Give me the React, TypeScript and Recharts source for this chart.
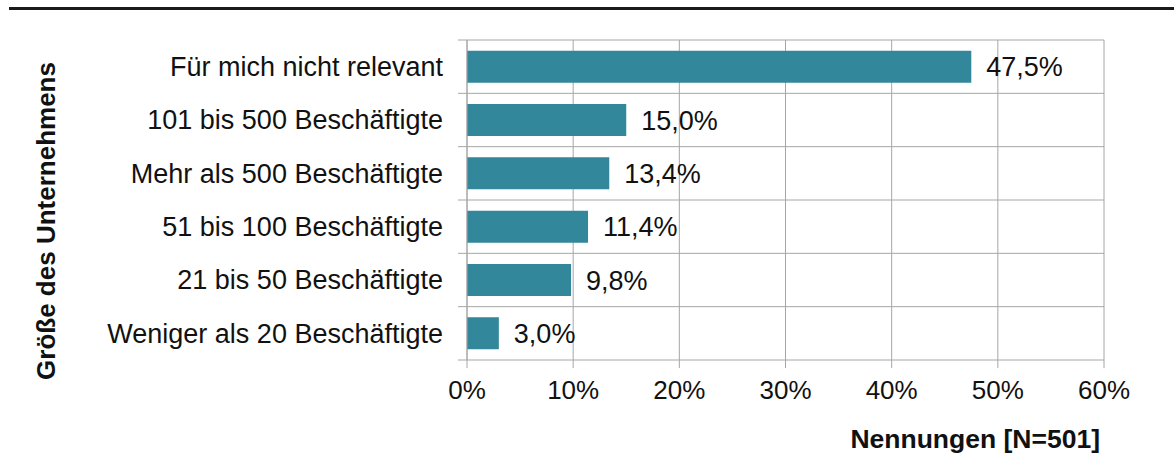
import { BarChart, Bar, XAxis, YAxis, CartesianGrid, LabelList } from 'recharts';

const categories = [
  'Für mich nicht relevant',
  '101 bis 500 Beschäftigte',
  'Mehr als 500 Beschäftigte',
  '51 bis 100 Beschäftigte',
  '21 bis 50 Beschäftigte',
  'Weniger als 20 Beschäftigte',
];
const shares = [47.5, 15.0, 13.4, 11.4, 9.8, 3.0];
const xTicks = [0, 10, 20, 30, 40, 50, 60];

const chartData = categories.map((name, i) => ({ name, value: shares[i] }));

const FONT = '"Liberation Sans", Arial, sans-serif';
const GRID = '#a6a6a6';
const fmtPct = (v: number) => `${v.toFixed(1).replace('.', ',')}%`;

const CategoryTick = (props: any) => {
  const { x, y, payload, index, visibleTicksCount } = props;
  const half = payload.offset || 0;
  const axisX = x;
  return (
    <g>
      <line x1={axisX - 9} x2={axisX} y1={y - half} y2={y - half} stroke={GRID} />
      {index === visibleTicksCount - 1 && (
        <line x1={axisX - 9} x2={axisX} y1={y + half} y2={y + half} stroke={GRID} />
      )}
      <text x={axisX - 24} y={y} dy="0.35em" textAnchor="end" fontSize={27} fill="#111" fontFamily={FONT}>
        {payload.value}
      </text>
    </g>
  );
};

export default function App() {
  return (
    <div style={{ position: 'absolute', left: 0, top: 0, width: 1174, height: 465, background: '#fff' }}>
      <div style={{ position: 'absolute', left: 9, right: 0, top: 7, height: 3, background: '#1a1a1a' }} />
      <BarChart
        width={1174}
        height={465}
        data={chartData}
        layout="vertical"
        margin={{ top: 40, right: 70, bottom: 0, left: 0 }}
        barCategoryGap="20%"
      >
        <CartesianGrid
          stroke={GRID}
          strokeWidth={1}
          horizontalCoordinatesGenerator={({ offset }: any) =>
            categories.map((_, i) => offset.top + (i * offset.height) / categories.length).concat(offset.top + offset.height)
          }
        />
        <XAxis
          type="number"
          domain={[0, 60]}
          ticks={xTicks}
          tickFormatter={(v: number) => `${v}%`}
          axisLine={false}
          tickLine={{ stroke: GRID }}
          tickSize={8}
          tickMargin={13}
          height={105}
          tick={{ fontSize: 26, fill: '#111', fontFamily: FONT }}
          label={{
            content: () => (
              <text x={1100} y={448} textAnchor="end" fontSize={26.5} fontWeight="bold" fill="#111" fontFamily={FONT}>
                Nennungen [N=501]
              </text>
            ),
          }}
        />
        <YAxis
          type="category"
          dataKey="name"
          width={467}
          axisLine={{ stroke: GRID }}
          tickLine={false}
          tickSize={0}
          tickMargin={0}
          interval={0}
          tick={<CategoryTick />}
          label={{
            content: () => (
              <text
                x={55}
                y={221}
                transform="rotate(-90 55 221)"
                textAnchor="middle"
                fontSize={26}
                fontWeight="bold"
                fill="#111"
                fontFamily={FONT}
              >
                Größe des Unternehmens
              </text>
            ),
          }}
        />
        <Bar dataKey="value" fill="#32879a" isAnimationActive={false}>
          <LabelList
            dataKey="value"
            position="right"
            offset={15}
            formatter={(v: any) => fmtPct(Number(v))}
            style={{ fontSize: 27, fill: '#111', fontFamily: FONT }}
          />
        </Bar>
      </BarChart>
    </div>
  );
}
